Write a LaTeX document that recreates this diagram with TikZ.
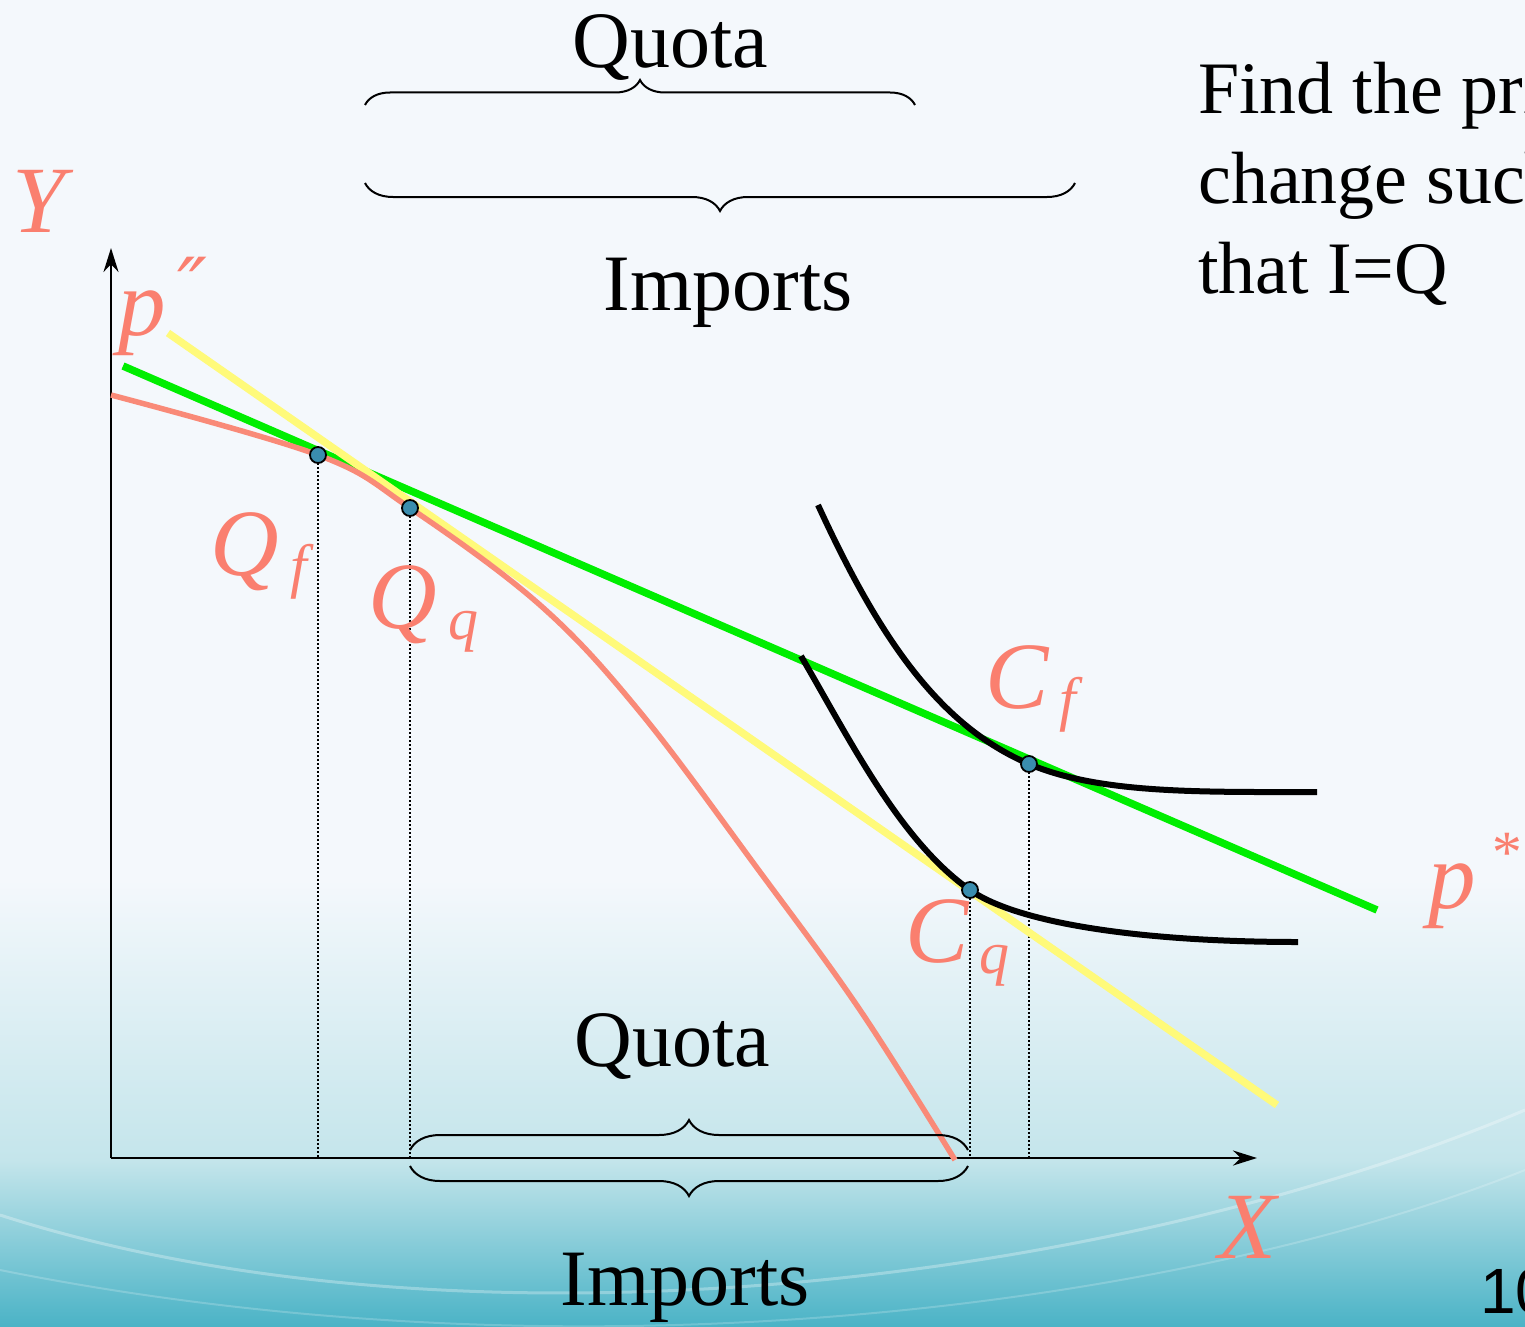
\documentclass[tikz,border=0pt]{standalone}
\usepackage{fontspec}
\setmainfont{Liberation Serif}
\newfontfamily\pagefont{Liberation Sans}
\newfontfamily\primefont{DejaVu Serif}
\usepackage{tikz}
\usetikzlibrary{positioning,calc,arrows.meta,decorations.pathreplacing}
\definecolor{QuoBg}{HTML}{F4F8FC}
\definecolor{QuoMist}{HTML}{C4E5EB}
\definecolor{QuoTeal}{HTML}{4AB3C6}
\definecolor{QuoSalmon}{HTML}{FA7F6F}
\definecolor{QuoCurve}{HTML}{F98A78}
\definecolor{QuoGreen}{HTML}{00EE00}
\definecolor{QuoYellow}{HTML}{FFFA7A}
\definecolor{QuoDot}{HTML}{3A8DAE}
\newcommand{\slidetxt}{\fontsize{80}{90}\selectfont}
\newcommand{\axlbl}{\fontsize{95}{95}\selectfont\itshape}
\newcommand{\sublbl}[2]{#1\hspace{0.12em}\raisebox{-0.12em}{\fontsize{60}{60}\selectfont #2}}

\begin{document}
\begin{tikzpicture}[x=1pt, y=-1pt,
  axis/.style={line width=2.5pt, -{Stealth[length=24pt,width=15pt]}},
  budget/.style={line width=7.5pt},
  indiff/.style={line width=6pt},
  guide/.style={line width=1.4pt, dash pattern=on 1.5pt off 2.5pt},
  dot/.style={circle, draw, line width=1.8pt, fill=QuoDot, inner sep=0pt, minimum size=16pt},
  braceup/.style={decorate, decoration={brace, amplitude=#1}, line width=2pt},
  bracedown/.style={decorate, decoration={brace, mirror, amplitude=#1}, line width=2pt},
  lbl/.style={QuoSalmon, anchor=base west, inner sep=0pt, font=\axlbl},
  txt/.style={anchor=base, inner sep=0pt, font=\slidetxt}]
  \useasboundingbox (0,0) rectangle (1525,1327);
  \clip (0,0) rectangle (1525,1327);
  % slide background
  \fill[QuoBg] (0,0) rectangle (1525,1327);
  \shade[top color=QuoBg, bottom color=QuoMist] (0,880) rectangle (1525,1160.5);
  \shade[top color=QuoMist, bottom color=QuoTeal] (0,1160) rectangle (1525,1327);
  \draw[white, opacity=0.3, line width=3pt] (0,1215) .. controls (450,1360) and (1100,1290) .. (1525,1110);
  \draw[white, opacity=0.2, line width=2pt] (0,1270) .. controls (600,1390) and (1200,1300) .. (1525,1170);

  \coordinate (O) at (111,1158);
  \coordinate (Qf) at (318,455);
  \coordinate (Qq) at (410,508);
  \coordinate (Cf) at (1029,764);
  \coordinate (Cq) at (970,890);

  % axes
  \draw[axis] (O) -- (111,248);
  \draw[axis] (O) -- (1257,1158);

  % drop lines
  \foreach \pnt in {Qf,Qq,Cf,Cq}
    \draw[guide] (\pnt) -- (\pnt |- O);

  % price lines and frontier
  \draw[budget, QuoGreen] (123,366) -- (1377,910);
  \draw[budget, QuoYellow] (168,333) -- (1277,1105);
  \draw[line width=5.5pt, QuoCurve] plot[smooth, tension=0.6] coordinates
    {(111,395) (Qf) (Qq) (540,605) (640,712) (760,872) (860,1010) (955,1160)};

  % indifference curves
  \draw[indiff] (818,505) .. controls (880,640) and (940,726) .. (Cf)
                .. controls (1100,794) and (1200,792) .. (1317,792);
  \draw[indiff] (801,656) .. controls (850,740) and (900,841) .. (Cq)
                .. controls (1020,925) and (1150,942) .. (1298,942);

  \foreach \pnt in {Qf,Qq,Cf,Cq}
    \node[dot] (\pnt dot) at (\pnt) {};

  % labels
  \node[lbl] (ylab) at (12,232) {Y};
  \node[lbl] (xlab) at (1218,1258) {X};
  \node[lbl] (pdbl) at (118,335) {p\hspace{12pt}\raisebox{20pt}{\primefont\itshape\fontsize{80}{80}\selectfont ″}};
  \node[lbl] (pstar) at (1428,908) {p\hspace{0.14em}\raisebox{0.37em}{\fontsize{60}{60}\selectfont *}};
  \node[lbl] (qflab) at (210,575) {\sublbl{Q}{f}};
  \node[lbl] (qqlab) at (368,628) {\sublbl{Q}{q}};
  \node[lbl] (cflab) at (985,708) {\sublbl{C}{f}};
  \node[lbl] (cqlab) at (905,962) {\sublbl{C}{q}};

  % braces
  \coordinate (tqa) at (365,105);  \coordinate (tqb) at (915,105);
  \coordinate (tia) at (365,183);  \coordinate (tib) at (1075,183);
  \coordinate (bqa) at (410,1150); \coordinate (bqb) at (968,1150);
  \coordinate (bia) at (410,1166); \coordinate (bib) at (968,1166);
  \draw[braceup=25] (tqa) -- (tqb);
  \draw[bracedown=28] (tia) -- (tib);
  \draw[braceup=30] (bqa) -- (bqb);
  \draw[bracedown=30] (bia) -- (bib);

  \node[txt] (quotatop) at (670,68) {Quota};
  \node[txt] (importstop) at (728,310) {Imports};
  \node[txt] (quotabot) at (672,1066) {Quota};
  \node[txt] (importsbot) at (685,1305) {Imports};

  \node[anchor=base west, align=left, inner sep=0pt, font=\fontsize{74}{90}\selectfont]
    (task) at (1198,293) {Find the price\\change such\\that I=Q};
  \node[anchor=base west, inner sep=0pt, font=\pagefont\fontsize{64}{64}\selectfont]
    (pagenum) at (1480,1313) {10};
\end{tikzpicture}
\end{document}
